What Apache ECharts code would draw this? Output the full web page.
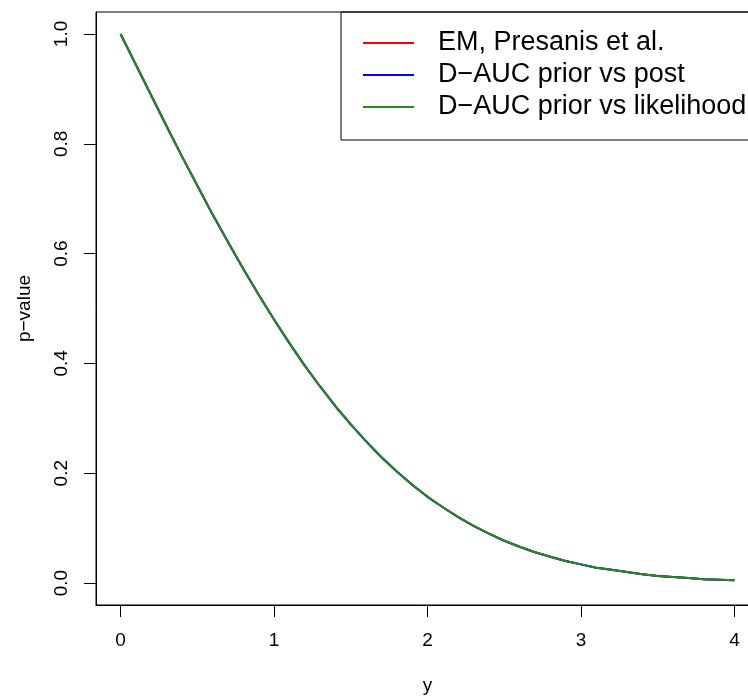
<!DOCTYPE html>
<html>
<head>
<meta charset="utf-8">
<script src="https://cdn.jsdelivr.net/npm/echarts@6/dist/echarts.min.js"></script>
<style>html,body{margin:0;padding:0;background:#fff;}#c{width:748px;height:696px;}</style>
</head>
<body>
<div id="c"></div>
<script>
var yVals = [0,0.1,0.2,0.3,0.4,0.5,0.6,0.7,0.8,0.9,1.0,1.1,1.2,1.3,1.4,1.5,1.6,1.7,1.8,1.9,2.0,2.1,2.2,2.3,2.4,2.5,2.6,2.7,2.8,2.9,3.0,3.1,3.2,3.3,3.4,3.5,3.6,3.7,3.8,3.9,4.0];
var pEM = [1.000,0.944,0.888,0.832,0.777,0.724,0.671,0.621,0.572,0.525,0.480,0.437,0.396,0.358,0.322,0.289,0.258,0.229,0.203,0.179,0.157,0.138,0.120,0.104,0.090,0.077,0.066,0.056,0.048,0.040,0.034,0.028,0.024,0.020,0.016,0.013,0.011,0.009,0.007,0.006,0.005];
var pPost = [1.000,0.944,0.888,0.832,0.777,0.724,0.671,0.621,0.572,0.525,0.480,0.437,0.396,0.358,0.322,0.289,0.258,0.229,0.203,0.179,0.157,0.138,0.120,0.104,0.090,0.077,0.066,0.056,0.048,0.040,0.034,0.028,0.024,0.020,0.016,0.013,0.011,0.009,0.007,0.006,0.005];
var pLik = [1.000,0.944,0.888,0.832,0.777,0.724,0.671,0.621,0.572,0.525,0.480,0.437,0.396,0.358,0.322,0.289,0.258,0.229,0.203,0.179,0.157,0.138,0.120,0.104,0.090,0.077,0.066,0.056,0.048,0.040,0.034,0.028,0.024,0.020,0.016,0.013,0.011,0.009,0.007,0.006,0.005];
var xTicks = [0,1,2,3,4];
var yTicks = [0,0.2,0.4,0.6,0.8,1.0];
var seriesNames = ['EM, Presanis et al.', 'D\u2212AUC prior vs post', 'D\u2212AUC prior vs likelihood'];
var seriesColors = ['#FF0000', '#0000FF', '#228B22'];

function pairs(xs, ys){ return xs.map(function(x,i){ return [x, ys[i]]; }); }
var FONT = 'Liberation Sans, Arial, Helvetica, sans-serif';
var chart = echarts.init(document.getElementById('c'));
chart.setOption({
  animation: false,
  backgroundColor: '#fff',
  grid: { left: 96, top: 12, width: 663, height: 593, show: true, borderColor: '#000', borderWidth: 1, backgroundColor: 'transparent', containLabel: false, outerBoundsMode: 'none' },
  xAxis: {
    type: 'value', min: -0.16, max: 4.16,
    name: 'y', nameLocation: 'middle', nameGap: 71,
    nameTextStyle: { fontFamily: FONT, fontSize: 19, color: '#000' },
    axisLine: { show: true, onZero: false, lineStyle: { color: '#000', width: 1 } },
    axisTick: { show: true, inside: false, length: 12, customValues: xTicks, lineStyle: { color: '#000' } },
    axisLabel: { customValues: xTicks, margin: 26, fontFamily: FONT, fontSize: 19, color: '#000', formatter: function(v){ return String(v); } },
    splitLine: { show: false }
  },
  yAxis: {
    type: 'value', min: -0.04, max: 1.04,
    name: 'p\u2212value', nameLocation: 'middle', nameGap: 62, nameRotate: 90,
    nameTextStyle: { fontFamily: FONT, fontSize: 19, color: '#000' },
    axisLine: { show: true, onZero: false, lineStyle: { color: '#000', width: 1 } },
    axisTick: { show: true, inside: false, length: 12, customValues: yTicks, lineStyle: { color: '#000' } },
    axisLabel: { customValues: yTicks, rotate: 90, margin: 25, fontFamily: FONT, fontSize: 19, color: '#000', formatter: function(v){ return v.toFixed(1); } },
    splitLine: { show: false }
  },
  legend: {
    orient: 'vertical', left: 341, top: 12,
    borderColor: '#000', borderWidth: 1, borderRadius: 0,
    padding: [15, 20, 17, 22],
    itemGap: 0, itemWidth: 51, itemHeight: 2, icon: 'rect',
    textStyle: { fontFamily: FONT, fontSize: 27, color: '#000', lineHeight: 32, padding: [0, 0, 0, 19] },
    data: seriesNames
  },
  series: seriesNames.map(function(n, i){
    var d = [pEM, pPost, pLik][i];
    return { name: n, type: 'line', data: pairs(yVals, d), showSymbol: false, symbol: 'none', smooth: false,
      lineStyle: { color: seriesColors[i], width: 2 }, itemStyle: { color: seriesColors[i] } };
  })
});
</script>
</body>
</html>
